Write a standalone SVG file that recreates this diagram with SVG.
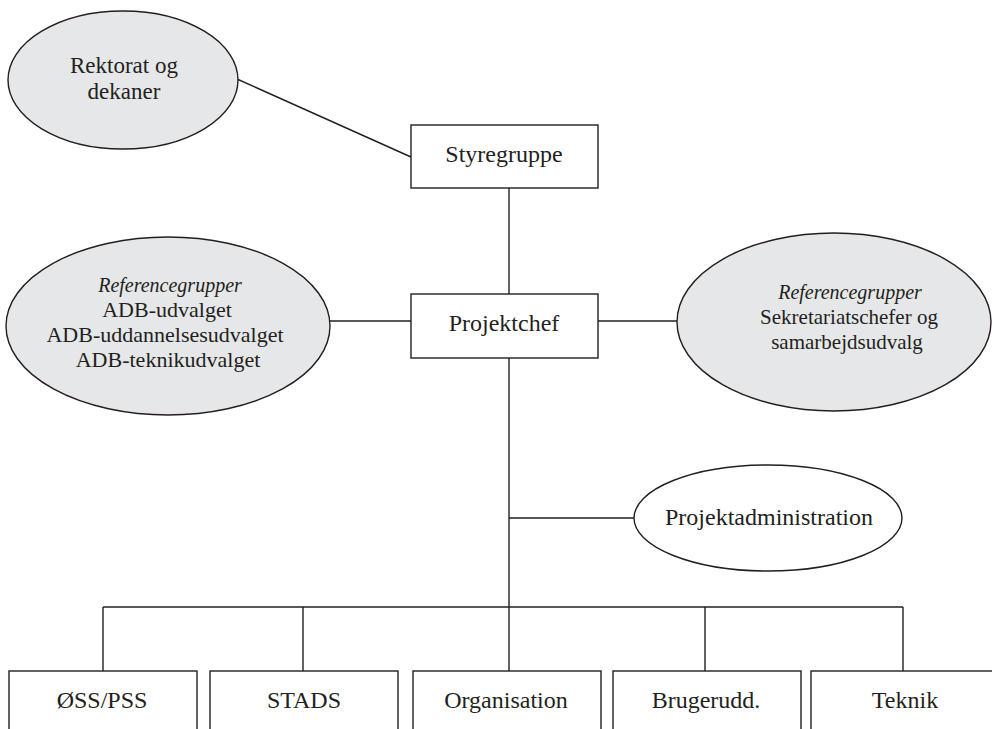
<svg xmlns="http://www.w3.org/2000/svg" width="992" height="729" viewBox="0 0 992 729">
<style>
.shape{stroke:#231f20;stroke-width:1.4;}
.grey{fill:#e6e7e8;}
.white{fill:#ffffff;}
.conn line{stroke:#231f20;stroke-width:1.4;}
text{font-family:"Liberation Serif","Times New Roman",serif;fill:#231f20;text-anchor:middle;}
.t24{font-size:24px;}
.t23{font-size:23px;}
.t22{font-size:22px;}
.t21{font-size:21px;}
.it{font-style:italic;font-size:20px;}
</style>
<rect x="0" y="0" width="992" height="729" fill="#ffffff"/>
<g id="connectors" class="conn">
<line x1="237" y1="79" x2="411" y2="157"/>
<line x1="509" y1="188" x2="509" y2="294"/>
<line x1="330" y1="321" x2="411" y2="321"/>
<line x1="598" y1="321" x2="677" y2="321"/>
<line x1="509" y1="358" x2="509" y2="671"/>
<line x1="509" y1="518" x2="634" y2="518"/>
<line x1="103" y1="607" x2="903" y2="607"/>
<line x1="103" y1="607" x2="103" y2="671"/>
<line x1="303" y1="607" x2="303" y2="671"/>
<line x1="705" y1="607" x2="705" y2="671"/>
<line x1="903" y1="607" x2="903" y2="671"/>
</g>
<g id="rektorat">
<ellipse class="shape grey" cx="123" cy="80" rx="115" ry="69"/>
<text class="t23" x="124" y="73">Rektorat og</text>
<text class="t23" x="124" y="99">dekaner</text>
</g>
<g id="styregruppe">
<rect class="shape white" x="411" y="125" width="187" height="63"/>
<text class="t24" x="504" y="162">Styregruppe</text>
</g>
<g id="projektchef">
<rect class="shape white" x="411" y="294" width="187" height="64"/>
<text class="t24" x="504" y="331">Projektchef</text>
</g>
<g id="ref-left">
<ellipse class="shape grey" cx="168" cy="326" rx="162" ry="89"/>
<text class="it" x="170" y="292">Referencegrupper</text>
<text class="t22" x="167" y="317">ADB-udvalget</text>
<text class="t22" x="165" y="342">ADB-uddannelsesudvalget</text>
<text class="t22" x="168" y="367">ADB-teknikudvalget</text>
</g>
<g id="ref-right">
<ellipse class="shape grey" cx="834" cy="322" rx="157" ry="89"/>
<text class="it" x="850" y="299">Referencegrupper</text>
<text class="t21" x="849" y="324">Sekretariatschefer og</text>
<text class="t21" x="847" y="349">samarbejdsudvalg</text>
</g>
<g id="projektadministration">
<ellipse class="shape white" cx="768" cy="518" rx="134" ry="53"/>
<text class="t24" x="769" y="525">Projektadministration</text>
</g>
<g id="oss-pss">
<rect class="shape white" x="9" y="671" width="188" height="100"/>
<text class="t24" x="102" y="708">ØSS/PSS</text>
</g>
<g id="stads">
<rect class="shape white" x="210" y="671" width="188" height="100"/>
<text class="t24" x="304" y="708">STADS</text>
</g>
<g id="organisation">
<rect class="shape white" x="413" y="671" width="188" height="100"/>
<text class="t24" x="506" y="708">Organisation</text>
</g>
<g id="brugerudd">
<rect class="shape white" x="613" y="671" width="188" height="100"/>
<text class="t24" x="706" y="708">Brugerudd.</text>
</g>
<g id="teknik">
<rect class="shape white" x="811" y="671" width="188" height="100"/>
<text class="t24" x="905" y="708">Teknik</text>
</g>
</svg>
